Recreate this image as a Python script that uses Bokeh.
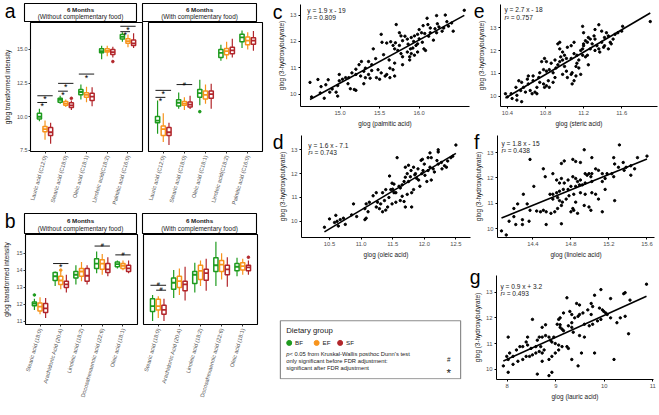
import math
import numpy as np
from bokeh.plotting import figure
from bokeh.models import (Range1d, FactorRange, FixedTicker, Label, LinearAxis,
                          ColumnDataSource, PrintfTickFormatter, CustomJSTickFormatter)
from bokeh.layouts import row, column
from bokeh.transform import dodge
from bokeh.core.properties import value
from bokeh.embed import file_html
from bokeh.resources import INLINE

FONT = "Liberation Sans"
KX = 643 / 659
KY = 399 / 415
KF = 0.97


def sx(v):
    return int(round(v * KX))


def sy(v):
    return int(round(v * KY))


def fpx(v):
    return f"{v * KF:.2f}px"


# ------------------------------------------------------------------ data
groups = ["BF", "EF", "SF"]
group_colors = ["#1E9B1E", "#F7941D", "#B2262B"]
group_offsets = [-0.27, 0.0, 0.27]

strip_title = "6 Months"
facet_titles = ["(Without complementary food)", "(With complementary food)"]
a_cats = ["Lauric acid (C12:0)", "Stearic acid (C18:0)", "Oleic acid (C18:1)",
          "Linoleic acid(C18:2)", "Palmitic acid (C16:0)"]
b_cats = ["Stearic acid (18:0)", "Arachidonic Acid (20:4)", "Linoleic acid (18:2)",
          "Docosahexaenoic acid (22:6)", "Oleic acid (18:1)"]
a_yticks = [7.5, 10.0, 12.5, 15.0]
b_yticks = [11, 12, 13, 14, 15]

# [lower whisker, Q1, median, Q3, upper whisker] per category
a_wo_BF = [[9.67, 9.84, 10.00, 10.26, 10.60], [10.97, 11.08, 11.25, 11.37, 11.56],
           [11.28, 11.63, 11.84, 12.03, 12.39], [14.28, 14.75, 14.88, 15.05, 15.27],
           [15.57, 15.77, 15.93, 16.10, 16.27]]
a_wo_EF = [[8.30, 8.89, 9.08, 9.27, 9.72], [10.73, 10.85, 10.97, 11.13, 11.28],
           [11.08, 11.44, 11.63, 11.79, 12.22], [14.50, 14.80, 14.90, 15.05, 15.27],
           [15.16, 15.46, 15.62, 15.80, 16.10]]
a_wo_SF = [[8.00, 8.60, 8.85, 9.20, 9.55], [10.50, 10.69, 10.85, 11.04, 11.20],
           [10.78, 11.20, 11.49, 11.75, 12.20], [14.40, 14.63, 14.80, 14.99, 15.20],
           [15.10, 15.30, 15.45, 15.70, 16.20]]
a_wo_out = [("Stearic acid (C18:0)", "SF", 11.37), ("Linoleic acid(C18:2)", "SF", 14.10)]
a_wo_sig = [("Lauric acid (C12:0)", "BF", "SF", 11.56, "*"),
            ("Lauric acid (C12:0)", "BF", "EF", 11.06, "*"),
            ("Stearic acid (C18:0)", "BF", "SF", 12.48, "*"),
            ("Stearic acid (C18:0)", "BF", "EF", 11.90, "*"),
            ("Oleic acid (C18:1)", "BF", "SF", 13.17, "*"),
            ("Palmitic acid (C16:0)", "BF", "SF", 16.72, "*"),
            ("Palmitic acid (C16:0)", "BF", "EF", 16.32, "*")]

a_wi_BF = [[8.73, 9.55, 9.72, 10.02, 11.20], [10.60, 10.80, 11.04, 11.27, 11.80],
           [10.85, 11.44, 11.75, 12.03, 12.74], [14.16, 14.40, 14.75, 14.99, 15.34],
           [15.10, 15.57, 15.90, 16.13, 16.41]]
a_wi_EF = [[8.13, 8.60, 9.08, 9.31, 10.26], [10.50, 10.85, 10.97, 11.13, 11.44],
           [10.97, 11.32, 11.63, 11.91, 12.39], [14.28, 14.60, 14.87, 15.06, 15.57],
           [14.99, 15.34, 15.65, 15.93, 16.27]]
a_wi_SF = [[7.90, 8.60, 8.85, 9.20, 9.55], [10.57, 10.73, 10.90, 11.09, 11.56],
           [10.60, 11.37, 11.68, 11.91, 12.46], [14.40, 14.68, 14.93, 15.16, 15.80],
           [14.90, 15.39, 15.65, 15.86, 16.37]]
a_wi_out = [("Oleic acid (C18:1)", "BF", 10.38)]
a_wi_sig = [("Lauric acid (C12:0)", "BF", "SF", 11.96, "*"),
            ("Lauric acid (C12:0)", "BF", "EF", 11.44, "*"),
            ("Stearic acid (C18:0)", "BF", "SF", 12.39, "#")]

b_wo_BF = [[11.66, 11.90, 12.03, 12.13, 12.32], [13.07, 13.39, 13.64, 13.86, 13.92],
           [13.16, 13.54, 13.73, 13.92, 14.29], [13.82, 14.10, 14.39, 14.67, 15.10],
           [14.10, 14.20, 14.35, 14.48, 14.57]]
b_wo_EF = [[11.41, 11.60, 11.85, 12.07, 12.41], [12.88, 13.16, 13.39, 13.64, 13.90],
           [13.35, 13.64, 13.92, 14.10, 14.48], [13.73, 14.05, 14.39, 14.61, 14.95],
           [14.00, 14.10, 14.26, 14.39, 14.57]]
b_wo_SF = [[11.19, 11.51, 11.75, 12.03, 12.36], [12.69, 12.98, 13.16, 13.35, 13.73],
           [13.16, 13.35, 13.67, 14.10, 14.29], [13.64, 13.86, 14.05, 14.39, 14.76],
           [13.82, 13.92, 14.10, 14.29, 14.57]]
b_wo_out = [("Stearic acid (18:0)", "BF", 12.54), ("Arachidonic Acid (20:4)", "EF", 14.00)]
b_wo_sig = [("Arachidonic Acid (20:4)", "BF", "SF", 14.39, "*"),
            ("Docosahexaenoic acid (22:6)", "BF", "SF", 15.42, "#"),
            ("Oleic acid (18:1)", "BF", "SF", 14.90, "#")]

b_wi_BF = [[11.00, 11.56, 11.88, 12.32, 12.54], [12.36, 12.88, 13.26, 13.54, 14.01],
           [12.69, 13.22, 13.73, 13.92, 14.43], [13.07, 13.92, 14.29, 14.73, 15.67],
           [13.64, 13.97, 14.20, 14.39, 14.73]]
b_wi_EF = [[11.19, 11.66, 11.88, 12.28, 12.47], [12.54, 12.98, 13.35, 13.64, 14.10],
           [13.07, 13.45, 13.96, 14.29, 14.57], [13.45, 13.92, 14.33, 14.57, 14.99],
           [13.73, 14.01, 14.24, 14.43, 14.67]]
b_wi_SF = [[11.00, 11.41, 11.66, 11.94, 12.32], [12.22, 12.79, 13.16, 13.35, 14.20],
           [12.79, 13.41, 13.82, 14.05, 14.67], [13.03, 13.73, 14.05, 14.29, 14.76],
           [13.73, 13.97, 14.16, 14.29, 14.57]]
b_wi_out = [("Oleic acid (18:1)", "SF", 14.76)]
b_wi_sig = [("Stearic acid (18:0)", "BF", "SF", 13.11, "#"),
            ("Stearic acid (18:0)", "EF", "SF", 12.82, "#")]

# scatter panels (x = fatty acid, y = 3-hydroxybutyrate)
c_x = [16.57, 16.33, 16.22, 16.10, 16.11, 16.14, 16.20, 16.23, 16.29, 16.31, 16.37, 16.41, 16.43,
       16.22, 16.14, 16.00, 16.03, 16.07, 15.98, 15.94, 15.90, 15.85, 15.79, 15.75, 15.77, 15.71,
       15.52, 15.53, 15.59, 15.64, 15.67, 15.69, 15.73, 15.77, 15.79, 15.85, 15.89, 15.88, 15.88,
       15.92, 15.96, 15.98, 16.04, 16.06, 16.08, 15.98, 15.94, 15.90, 15.79, 15.69, 15.67, 15.63,
       15.59, 15.52, 15.48, 15.40, 15.42, 15.36, 15.32, 15.30, 15.27, 15.24, 15.20, 15.26, 15.32,
       15.36, 15.38, 15.46, 15.50, 15.57, 15.63, 15.69, 15.15, 15.11, 15.07, 15.03, 14.99, 14.97,
       14.99, 15.13, 15.18, 15.20, 14.97, 14.95, 14.62, 14.72, 14.76, 14.82, 14.87, 14.64, 14.75,
       14.80, 14.85, 14.90, 15.45, 15.55, 15.62, 15.70, 15.75, 15.82, 15.86, 15.93, 16.00, 16.05,
       16.12, 16.18, 16.25, 16.35, 15.30, 15.40, 15.20, 15.10]
c_y = [13.18, 13.00, 12.98, 12.88, 12.64, 12.51, 12.48, 12.67, 12.39, 12.51, 12.58, 12.70, 12.39,
       12.33, 12.33, 12.45, 12.33, 12.30, 12.27, 12.21, 12.15, 12.09, 12.03, 12.33, 12.21, 12.64,
       12.27, 11.97, 11.94, 11.99, 11.85, 11.72, 11.66, 11.54, 11.42, 11.60, 11.72, 11.42, 11.30,
       11.75, 11.85, 11.91, 11.97, 11.72, 11.66, 11.60, 11.48, 11.54, 11.12, 11.18, 10.93, 10.99,
       10.75, 10.81, 10.93, 11.12, 11.72, 11.24, 10.99, 10.87, 11.24, 11.12, 10.75, 10.69, 10.63,
       10.75, 10.61, 10.63, 10.57, 10.69, 10.63, 10.69, 10.81, 10.63, 10.63, 10.57, 10.51, 10.33,
       10.75, 10.21, 10.18, 10.15, 9.93, 10.08, 10.45, 10.56, 10.29, 10.36, 10.08, 9.90, 10.05,
       9.85, 10.55, 10.20, 11.35, 11.50, 11.30, 11.95, 11.85, 12.20, 11.90, 12.00, 12.10, 12.60,
       12.20, 12.05, 12.55, 12.75, 10.40, 10.90, 10.95, 10.40]

e_x = [10.38, 10.40, 10.45, 10.50, 10.55, 10.50, 10.54, 10.57, 10.52, 10.55, 10.61, 10.62, 10.67,
       10.64, 10.66, 10.71, 10.67, 10.73, 10.74, 10.78, 10.79, 10.81, 10.83, 10.84, 10.74, 10.78,
       10.81, 10.84, 10.88, 10.90, 10.91, 10.93, 10.95, 10.98, 11.00, 11.02, 11.03, 11.07, 11.08,
       11.10, 11.12, 11.13, 11.15, 10.95, 10.93, 10.95, 10.98, 11.00, 11.03, 11.07, 11.10, 11.13,
       11.17, 11.19, 11.20, 11.22, 11.24, 11.27, 11.29, 11.32, 11.34, 11.36, 11.37, 11.41, 11.42,
       11.44, 11.46, 11.48, 11.49, 11.42, 11.39, 11.36, 11.19, 11.20, 11.24, 11.25, 11.15, 11.12,
       11.27, 11.31, 11.32, 11.51, 11.53, 11.56, 11.60, 11.61, 11.90, 11.32, 11.22, 11.10, 11.07,
       10.98, 10.88, 10.86, 10.81, 10.71, 10.69, 10.59, 10.49, 10.44, 10.62, 10.76, 10.79, 11.19,
       11.17, 11.02, 10.96, 10.90, 11.39, 11.25, 11.46, 11.08, 11.20]
e_y = [10.11, 9.97, 9.90, 9.83, 9.76, 10.04, 10.25, 10.39, 10.68, 10.61, 10.75, 10.54, 10.68,
       10.25, 10.11, 10.11, 10.89, 10.82, 10.61, 10.54, 10.39, 10.46, 10.68, 10.39, 11.03, 11.17,
       11.10, 11.17, 11.03, 10.82, 11.24, 11.38, 11.52, 11.59, 11.31, 11.10, 10.82, 10.96, 11.03,
       10.68, 11.31, 11.45, 11.59, 12.08, 12.30, 12.37, 11.94, 11.80, 12.15, 12.22, 11.87, 11.80,
       12.01, 12.08, 12.22, 12.44, 12.37, 12.08, 12.30, 12.51, 12.22, 12.08, 11.94, 12.15, 12.22,
       12.79, 12.65, 12.37, 12.30, 12.58, 12.86, 13.14, 13.07, 12.30, 11.80, 11.38, 11.24, 10.89,
       12.51, 12.65, 12.93, 12.51, 12.72, 12.79, 12.86, 13.07, 13.28, 12.01, 11.73, 12.37, 11.66,
       10.96, 10.61, 11.45, 11.52, 10.39, 10.18, 10.18, 10.39, 10.11, 10.89, 11.52, 11.66, 11.80,
       10.96, 11.66, 11.73, 11.59, 12.37, 12.58, 12.08, 10.54, 12.79]

d_x = [12.50, 12.22, 12.22, 12.09, 12.11, 12.06, 11.95, 11.97, 11.83, 11.79, 11.86, 11.70, 11.73,
       11.57, 11.49, 11.52, 11.47, 11.34, 11.39, 11.24, 11.26, 11.19, 11.13, 11.08, 11.06, 11.11,
       11.08, 11.06, 11.24, 11.29, 11.34, 11.39, 11.42, 11.49, 11.55, 11.62, 11.68, 11.70, 11.80,
       11.52, 11.60, 11.65, 11.68, 11.75, 11.78, 11.88, 11.91, 11.96, 11.98, 12.01, 12.06, 12.09,
       12.14, 12.16, 12.22, 12.27, 12.32, 12.35, 12.37, 12.42, 12.45, 12.11, 12.04, 11.93, 11.83,
       11.80, 11.73, 11.44, 11.37, 11.31, 10.88, 10.85, 10.93, 10.72, 10.67, 10.62, 10.75, 10.64,
       10.42, 10.50, 10.58, 10.60, 11.55, 11.62, 11.70, 11.85, 11.90, 12.00, 11.45, 11.50, 11.65,
       11.75, 12.20, 12.28]
d_y = [13.20, 13.00, 12.91, 12.87, 12.67, 12.67, 12.56, 12.60, 12.27, 12.13, 12.00, 12.27, 12.00,
       12.67, 11.60, 11.56, 11.33, 11.20, 11.33, 11.20, 10.80, 11.07, 10.80, 10.73, 10.53, 10.40,
       10.13, 10.07, 10.60, 10.53, 10.40, 10.47, 10.60, 10.73, 10.80, 10.87, 10.83, 10.60, 10.60,
       11.20, 11.47, 11.53, 11.67, 11.67, 11.87, 11.80, 11.73, 12.00, 12.13, 11.93, 12.13, 12.27,
       12.20, 12.07, 12.40, 12.47, 12.33, 12.27, 12.53, 12.67, 12.73, 11.73, 11.67, 11.47, 11.33,
       11.20, 11.13, 11.00, 10.87, 10.73, 10.73, 10.27, 10.20, 10.13, 10.07, 10.00, 9.87, 9.80,
       9.75, 10.10, 9.95, 10.25, 11.20, 11.40, 11.85, 11.95, 12.20, 12.40, 11.90, 11.35, 11.05,
       12.35, 12.55, 12.20]

f_x = [15.31, 14.94, 14.37, 14.82, 14.73, 14.70, 14.85, 14.90, 15.02, 15.25, 15.26, 15.35, 15.38,
       15.43, 15.47, 15.50, 15.60, 14.51, 14.61, 14.53, 14.65, 14.70, 14.68, 14.73, 14.77, 14.82,
       14.85, 14.87, 14.90, 14.95, 14.97, 14.99, 15.01, 15.02, 15.06, 15.09, 15.13, 15.18, 15.23,
       15.25, 15.16, 15.13, 15.02, 14.95, 14.92, 14.89, 14.85, 14.80, 14.77, 14.72, 14.68, 14.65,
       14.61, 14.58, 14.41, 14.30, 14.34, 14.24, 14.20, 14.37, 14.44, 14.48, 14.51, 14.54, 14.59,
       14.63, 14.66, 14.70, 14.71, 14.75, 14.78, 14.83, 14.85, 14.82, 14.80, 14.83, 14.87, 14.94,
       14.99, 15.01, 15.02, 15.06, 15.09, 15.13, 15.26, 15.16, 14.95, 14.90, 14.66, 14.61, 14.68,
       14.29, 14.20, 14.22, 14.29, 14.36, 14.54, 14.70, 14.07, 14.12, 14.15, 15.43, 15.36, 15.30]
f_y = [13.30, 13.11, 12.73, 12.73, 12.67, 12.57, 12.65, 12.61, 12.80, 12.80, 12.55, 12.61, 12.42,
       12.48, 12.36, 12.80, 12.86, 12.36, 12.17, 12.05, 11.92, 11.98, 11.80, 11.80, 11.92, 12.05,
       11.98, 11.86, 11.92, 12.17, 12.11, 12.17, 12.05, 12.17, 12.36, 12.30, 12.17, 12.17, 12.17,
       12.05, 11.98, 11.86, 11.86, 11.80, 11.73, 11.73, 11.67, 11.67, 11.55, 11.55, 11.48, 11.42,
       11.36, 11.36, 11.67, 11.36, 10.98, 10.98, 10.80, 10.73, 10.70, 10.67, 10.73, 10.67, 10.61,
       10.67, 10.80, 10.92, 11.05, 11.17, 11.30, 11.36, 11.05, 10.80, 10.67, 10.73, 10.61, 10.92,
       10.86, 10.73, 11.42, 11.36, 11.17, 10.67, 11.11, 11.55, 11.36, 11.42, 11.23, 11.17, 11.11,
       10.36, 10.48, 10.17, 10.17, 10.30, 10.17, 10.20, 9.92, 9.76, 10.30, 12.11, 12.30, 12.42]

g_x = [10.87, 9.93, 10.40, 10.43, 10.13, 10.53, 9.23, 9.43, 9.49, 9.73, 9.76, 9.90, 9.96, 9.99,
       10.03, 10.06, 9.66, 9.56, 9.49, 9.46, 9.39, 9.33, 9.29, 9.16, 9.09, 9.06, 9.03, 9.09, 9.13,
       9.16, 9.26, 9.33, 9.36, 9.49, 9.59, 9.69, 9.76, 9.86, 9.93, 10.13, 10.26, 10.33, 10.43,
       10.50, 9.80, 9.53, 9.46, 9.33, 9.26, 9.23, 9.13, 9.06, 8.99, 8.92, 8.89, 8.96, 8.86, 8.79,
       8.72, 8.66, 8.62, 8.69, 8.76, 8.72, 8.66, 8.59, 8.49, 8.42, 8.39, 8.32, 8.26, 8.19, 8.12,
       8.05, 7.99, 8.02, 7.92, 8.02, 8.12, 8.22, 8.32, 8.39, 8.46, 8.52, 8.59, 8.62, 8.86, 8.92,
       8.72, 8.86, 8.92, 8.99, 9.06, 8.52, 8.02, 8.42, 8.72, 8.79, 9.09, 9.33, 9.59, 9.73, 9.80,
       10.20]
g_y = [13.31, 13.10, 12.94, 12.98, 12.75, 12.69, 12.78, 12.56, 12.50, 12.56, 12.44, 12.38, 12.31,
       12.25, 12.19, 12.13, 12.31, 12.19, 12.13, 12.06, 12.00, 12.13, 12.25, 12.19, 12.00, 11.94,
       11.75, 11.63, 11.56, 11.50, 11.69, 11.63, 11.44, 11.31, 11.25, 11.69, 11.75, 11.88, 11.94,
       12.00, 11.81, 12.00, 12.06, 11.38, 10.63, 10.63, 10.13, 10.38, 10.81, 10.88, 10.88, 10.94,
       11.00, 11.06, 11.13, 11.25, 11.25, 11.31, 11.25, 11.25, 11.13, 10.88, 10.75, 10.63, 10.69,
       10.88, 10.81, 10.94, 11.06, 10.88, 10.88, 10.75, 10.50, 10.63, 10.50, 10.38, 10.13, 9.88,
       10.19, 10.31, 10.38, 10.50, 10.50, 10.56, 10.63, 9.81, 9.75, 9.88, 10.31, 10.38, 10.50,
       10.63, 10.75, 11.94, 11.25, 11.25, 11.63, 11.73, 11.73, 11.81, 11.75, 12.13, 12.88, 10.38]

scatter_x_titles = ["glog (palmitic acid)", "glog (steric acid)", "glog (oleic acid)",
                    "glog (linoleic acid)", "glog (lauric acid)"]
scatter_eqs = ["y = 1.9 x - 19", "y = 2.7 x - 18", "y = 1.6 x - 7.1", "y = 1.8 x - 15",
               "y = 0.9 x + 3.2"]
scatter_r2 = ["0.809", "0.757", "0.743", "0.438", "0.493"]
y_title_scatter = "glog (3-hydroxybutyrate)"
y_title_box = "glog transformed intensity"
panel_letters = ["a", "b", "c", "d", "e", "f", "g"]

legend_title = "Dietary group"
legend_notes = ["p", " < 0.05 from Kruskal-Wallis posthoc Dunn's test",
                "only significant before FDR adjustment:", "significant after FDR adjustment"]

# ------------------------------------------------------------------ helpers
TXT = "#1A1A1A"
TICK = "#4D4D4D"
BOX_W = 0.2
LETTER_SIZE = fpx(20)


def base_fig(x0, fx0, fx1, x1, y0, fy0, fy1, y1, **kw):
    p = figure(frame_width=sx(fx1) - sx(fx0), frame_height=sy(fy1) - sy(fy0),
               min_border_left=sx(fx0) - sx(x0), min_border_right=sx(x1) - sx(fx1),
               min_border_top=sy(fy0) - sy(y0), min_border_bottom=sy(y1) - sy(fy1),
               toolbar_location=None, output_backend="svg", title=None, **kw)
    p.background_fill_color = "white"
    p.border_fill_color = "white"
    p.outline_line_color = None
    return p


def letter_axis(p, letter, yval, standoff):
    # the panel letter is drawn as the single tick label of an extra left axis
    ax = LinearAxis(ticker=FixedTicker(ticks=[yval]),
                    formatter=CustomJSTickFormatter(code="return '%s'" % letter),
                    axis_line_color=None, major_tick_line_color=None,
                    minor_tick_line_color=None, major_tick_in=0, major_tick_out=0,
                    major_label_standoff=standoff, major_label_text_font=FONT,
                    major_label_text_font_size=LETTER_SIZE, major_label_text_color="black")
    p.add_layout(ax, "left")


def strip_fig(x0, fx0, fx1, x1, y0, fy0, fy1, y1, subtitle):
    p = base_fig(x0, fx0, fx1, x1, y0, fy0, fy1, y1,
                 x_range=Range1d(fx0, fx1), y_range=Range1d(fy1, fy0),
                 x_axis_type=None, y_axis_type=None)
    p.outline_line_color = "black"
    p.outline_line_width = 1.1
    h = fy1 - fy0
    xc = (fx0 + fx1) / 2
    p.add_layout(Label(x=xc, y=fy0 + 0.32 * h, text=strip_title, text_align="center",
                       text_baseline="middle", text_font=FONT, text_font_style="bold",
                       text_font_size=fpx(6.4), text_color=TXT))
    p.add_layout(Label(x=xc, y=fy0 + 0.70 * h, text=subtitle, text_align="center",
                       text_baseline="middle", text_font=FONT,
                       text_font_size=fpx(6.6), text_color=TXT))
    return p


def box_panel(x0, fx0, fx1, x1, y0, fy0, fy1, y1, cats, stats, outs, sigs, yr, yticks,
              yfmt, show_y):
    kw = dict(x_range=FactorRange(factors=cats, range_padding=0.2,
                                  range_padding_units="absolute"),
              y_range=Range1d(*yr))
    if not show_y:
        kw["y_axis_location"] = None
    p = base_fig(x0, fx0, fx1, x1, y0, fy0, fy1, y1, **kw)
    p.outline_line_color = "black"
    p.outline_line_width = 1.1
    p.grid.visible = False
    xa = p.xaxis[0]
    xa.major_label_orientation = math.radians(74)
    xa.major_label_text_font = FONT
    xa.major_label_text_font_size = fpx(5.7)
    xa.major_label_text_color = TICK
    xa.axis_line_color = None
    xa.major_tick_in = 0
    xa.major_tick_out = 2
    xa.major_tick_line_color = "#333333"
    xa.major_label_standoff = 2
    if show_y:
        ya = p.yaxis[0]
        ya.ticker = FixedTicker(ticks=yticks)
        ya.formatter = PrintfTickFormatter(format=yfmt)
        ya.axis_line_color = None
        ya.major_tick_in = 0
        ya.major_tick_out = 2
        ya.major_tick_line_color = "#333333"
        ya.minor_tick_line_color = None
        ya.major_label_text_font = FONT
        ya.major_label_text_font_size = fpx(5.6)
        ya.major_label_text_color = TICK
        ya.major_label_standoff = 1
        ya.axis_label = y_title_box
        ya.axis_label_text_font = FONT
        ya.axis_label_text_font_size = fpx(6.7)
        ya.axis_label_text_font_style = "normal"
        ya.axis_label_text_color = TXT
        ya.axis_label_standoff = 3

    for gi, g in enumerate(groups):
        col = group_colors[gi]
        off = group_offsets[gi]
        st = stats[gi]
        src = ColumnDataSource(dict(cat=cats, lo=[s[0] for s in st], q1=[s[1] for s in st],
                                    med=[s[2] for s in st], q3=[s[3] for s in st],
                                    hi=[s[4] for s in st]))
        xc = dodge("cat", off, range=p.x_range)
        p.segment(x0=xc, y0="lo", x1=xc, y1="hi", source=src, line_color=col, line_width=1.2)
        p.vbar(x=xc, width=BOX_W, bottom="q1", top="q3", source=src, fill_color="white",
               line_color=col, line_width=1.5)
        p.segment(x0=dodge("cat", off - BOX_W / 2, range=p.x_range), y0="med",
                  x1=dodge("cat", off + BOX_W / 2, range=p.x_range), y1="med",
                  source=src, line_color=col, line_width=1.8)
    for cat, g, v in outs:
        gi = groups.index(g)
        s = ColumnDataSource(dict(cat=[cat], y=[v]))
        p.scatter(x=dodge("cat", group_offsets[gi], range=p.x_range), y="y", source=s,
                  size=2.6, color=group_colors[gi])
    for cat, g1, g2, yv, sym in sigs:
        o1 = group_offsets[groups.index(g1)] - 0.1
        o2 = group_offsets[groups.index(g2)] + 0.1
        s = ColumnDataSource(dict(cat=[cat], y=[yv], t=[sym]))
        p.segment(x0=dodge("cat", o1, range=p.x_range), y0="y",
                  x1=dodge("cat", o2, range=p.x_range), y1="y", source=s,
                  line_color="black", line_width=0.9)
        if sym == "*":
            p.text(x=dodge("cat", (o1 + o2) / 2, range=p.x_range), y="y", text="t", source=s,
                   text_align="center", text_baseline="alphabetic", y_offset=3.5,
                   text_font=value(FONT), text_font_size=fpx(9), text_color="black")
        else:
            p.text(x=dodge("cat", (o1 + o2) / 2, range=p.x_range), y="y", text="t", source=s,
                   text_align="center", text_baseline="alphabetic", y_offset=-1,
                   text_font=value(FONT), text_font_size=fpx(5.8), text_color="black")
    return p


def scatter_panel(x0, fx0, fx1, x1, y0, fy0, fy1, y1, xs, ys, xr, yr, xticks, xfmt,
                  xtitle, letter, letter_yref, letter_standoff, eq, r2, eq_ref):
    p = base_fig(x0, fx0, fx1, x1, y0, fy0, fy1, y1,
                 x_range=Range1d(*xr), y_range=Range1d(*yr))
    p.grid.visible = False
    for ax in (p.xaxis[0], p.yaxis[0]):
        ax.axis_line_color = "black"
        ax.axis_line_width = 1
        ax.major_tick_line_color = "black"
        ax.major_tick_in = 0
        ax.major_tick_out = 2
        ax.minor_tick_line_color = None
        ax.major_label_text_font = FONT
        ax.major_label_text_font_size = fpx(6)
        ax.major_label_text_color = TICK
        ax.major_label_standoff = 2
        ax.axis_label_text_font = FONT
        ax.axis_label_text_font_size = fpx(6.6)
        ax.axis_label_text_font_style = "normal"
        ax.axis_label_text_color = TXT
        ax.axis_label_standoff = 2
    p.xaxis[0].ticker = FixedTicker(ticks=xticks)
    p.xaxis[0].formatter = PrintfTickFormatter(format=xfmt)
    p.xaxis[0].axis_label = xtitle
    p.yaxis[0].ticker = FixedTicker(ticks=[10, 11, 12, 13])
    p.yaxis[0].formatter = PrintfTickFormatter(format="%d")
    p.yaxis[0].axis_label = y_title_scatter

    p.scatter(xs, ys, size=2.4, color="black")
    coef = np.polyfit(xs, ys, 1)
    xl = np.array([min(xs), max(xs)])
    p.line(xl, np.polyval(coef, xl), line_width=1.6, color="black")

    def rx2d(rx):
        return xr[0] + (rx - fx0) / (fx1 - fx0) * (xr[1] - xr[0])

    def ry2d(ry):
        return yr[1] - (ry - fy0) / (fy1 - fy0) * (yr[1] - yr[0])

    letter_axis(p, letter, ry2d(letter_yref), letter_standoff)
    p.add_layout(Label(x=rx2d(eq_ref[0]), y=ry2d(eq_ref[1]), text=eq, text_align="left",
                       text_baseline="middle", text_font=FONT, text_font_size=fpx(6.8),
                       text_color=TXT))
    p.add_layout(Label(x=rx2d(eq_ref[0]), y=ry2d(eq_ref[1] + 8), text="r",
                       text_align="left", text_baseline="middle", text_font=FONT,
                       text_font_style="italic", text_font_size=fpx(6.8), text_color=TXT))
    p.add_layout(Label(x=rx2d(eq_ref[0] + 2.3), y=ry2d(eq_ref[1] + 8), text="\u00b2 = " + r2,
                       text_align="left", text_baseline="middle", text_font=FONT,
                       text_font_size=fpx(6.8), text_color=TXT))
    return p


# ------------------------------------------------------------------ left column
sAL = strip_fig(0, 25, 139, 143, 0, 3, 23, 23, facet_titles[0])
letter_axis(sAL, panel_letters[0], 11.5, 9)
sAR = strip_fig(143, 146, 262, 270, 0, 3, 23, 23, facet_titles[1])
pAL = box_panel(0, 25, 139, 143, 23, 23, 157.5, 218, a_cats, [a_wo_BF, a_wo_EF, a_wo_SF],
                a_wo_out, a_wo_sig, (7.42, 17.0), a_yticks, "%.1f", True)
pAR = box_panel(143, 146, 262, 270, 23, 23, 157.5, 218, a_cats, [a_wi_BF, a_wi_EF, a_wi_SF],
                a_wi_out, a_wi_sig, (7.42, 17.0), a_yticks, "%.1f", False)
sBL = strip_fig(0, 25, 139, 143, 218, 222, 243, 243, facet_titles[0])
letter_axis(sBL, panel_letters[1], 235, 9)
sBR = strip_fig(143, 146, 262, 270, 218, 222, 243, 243, facet_titles[1])
pBL = box_panel(0, 25, 139, 143, 243, 243, 337, 415, b_cats, [b_wo_BF, b_wo_EF, b_wo_SF],
                b_wo_out, b_wo_sig, (10.8, 16.1), b_yticks, "%d", True)
pBR = box_panel(143, 146, 262, 270, 243, 243, 337, 415, b_cats, [b_wi_BF, b_wi_EF, b_wi_SF],
                b_wi_out, b_wi_sig, (10.8, 16.1), b_yticks, "%d", False)

left = column(row(sAL, sAR), row(pAL, pAR), row(sBL, sBR), row(pBL, pBR))

# ------------------------------------------------------------------ right column
pc = scatter_panel(270, 297, 470, 471, 0, 4, 110, 135, c_x, c_y, (14.5, 16.636), (9.537, 13.40),
                   [15.0, 15.5, 16.0], "%.1f", scatter_x_titles[0], panel_letters[2], 10.5, -7,
                   scatter_eqs[0], scatter_r2[0], (304, 10))
pe = scatter_panel(471, 493, 654, 659, 0, 4, 110, 135, e_x, e_y, (10.328, 11.976), (9.548, 14.03),
                   [10.4, 10.8, 11.2, 11.6], "%.1f", scatter_x_titles[1], panel_letters[4], 10.5,
                   -9, scatter_eqs[1], scatter_r2[1], (497, 9))
pd = scatter_panel(270, 297, 470, 471, 135, 140, 247, 270, d_x, d_y, (10.057, 12.731), (9.32, 13.6),
                   [10.5, 11.0, 11.5, 12.0, 12.5], "%.1f", scatter_x_titles[2], panel_letters[3],
                   146, -7, scatter_eqs[2], scatter_r2[2], (304, 150))
pf = scatter_panel(471, 493, 654, 659, 135, 140, 247, 270, f_x, f_y, (14.028, 15.679), (9.66, 13.67),
                   [14.4, 14.8, 15.2, 15.6], "%.1f", scatter_x_titles[3], panel_letters[5], 146, -7,
                   scatter_eqs[3], scatter_r2[3], (497, 148))
pg = scatter_panel(471, 493, 654, 659, 270, 286, 394, 415, g_x, g_y, (7.779, 11.014), (9.6, 13.648),
                   [8, 9, 10, 11], "%d", scatter_x_titles[4], panel_letters[6], 288, -9,
                   scatter_eqs[4], scatter_r2[4], (497, 297))

# legend: same vertical borders as panel g so that the row keeps both frames in place
LX0, LX1, LY0, LY1 = 281, 465, 333, 394
leg = base_fig(270, 276, 470, 471, 270, 286, 394, 415,
               x_range=Range1d(276, 470), y_range=Range1d(394, 286),
               x_axis_type=None, y_axis_type=None)
leg.quad(left=[LX0], right=[LX1], top=[LY0], bottom=[LY1 - 0.8], fill_color="white",
         line_color="#8C8C8C", line_width=1.2)
leg.add_layout(Label(x=LX0 + 6, y=LY0 + 10, text=legend_title, text_baseline="middle",
                     text_font=FONT, text_font_size=fpx(8), text_color=TXT))
key_x = [LX0 + 9, LX0 + 37, LX0 + 61]
leg.scatter(x=key_x, y=[LY0 + 23] * 3, size=5, color=group_colors)
for kx, g in zip(key_x, groups):
    leg.add_layout(Label(x=kx + 6, y=LY0 + 23, text=g, text_baseline="middle", text_font=FONT,
                         text_font_size=fpx(6.4), text_color=TXT))
leg.add_layout(Label(x=LX0 + 6, y=LY0 + 35, text=legend_notes[0], text_baseline="middle",
                     text_font=FONT, text_font_style="italic", text_font_size=fpx(6),
                     text_color=TXT))
leg.add_layout(Label(x=LX0 + 9.3, y=LY0 + 35, text=legend_notes[1], text_baseline="middle",
                     text_font=FONT, text_font_size=fpx(6), text_color=TXT))
leg.add_layout(Label(x=LX0 + 6, y=LY0 + 42, text=legend_notes[2], text_baseline="middle",
                     text_font=FONT, text_font_size=fpx(6), text_color=TXT))
leg.add_layout(Label(x=LX0 + 6, y=LY0 + 49, text=legend_notes[3], text_baseline="middle",
                     text_font=FONT, text_font_size=fpx(6), text_color=TXT))
leg.add_layout(Label(x=LX1 - 12, y=LY0 + 40, text="#", text_align="center",
                     text_baseline="middle", text_font=FONT, text_font_size=fpx(6.5),
                     text_color=TXT))
leg.add_layout(Label(x=LX1 - 12, y=LY0 + 54, text="*", text_align="center",
                     text_baseline="middle", text_font=FONT, text_font_size=fpx(12),
                     text_color=TXT))

right = column(row(pc, pe), row(pd, pf), row(leg, pg))
layout = row(left, right)

open("out.html", "w").write(file_html(layout, INLINE))
